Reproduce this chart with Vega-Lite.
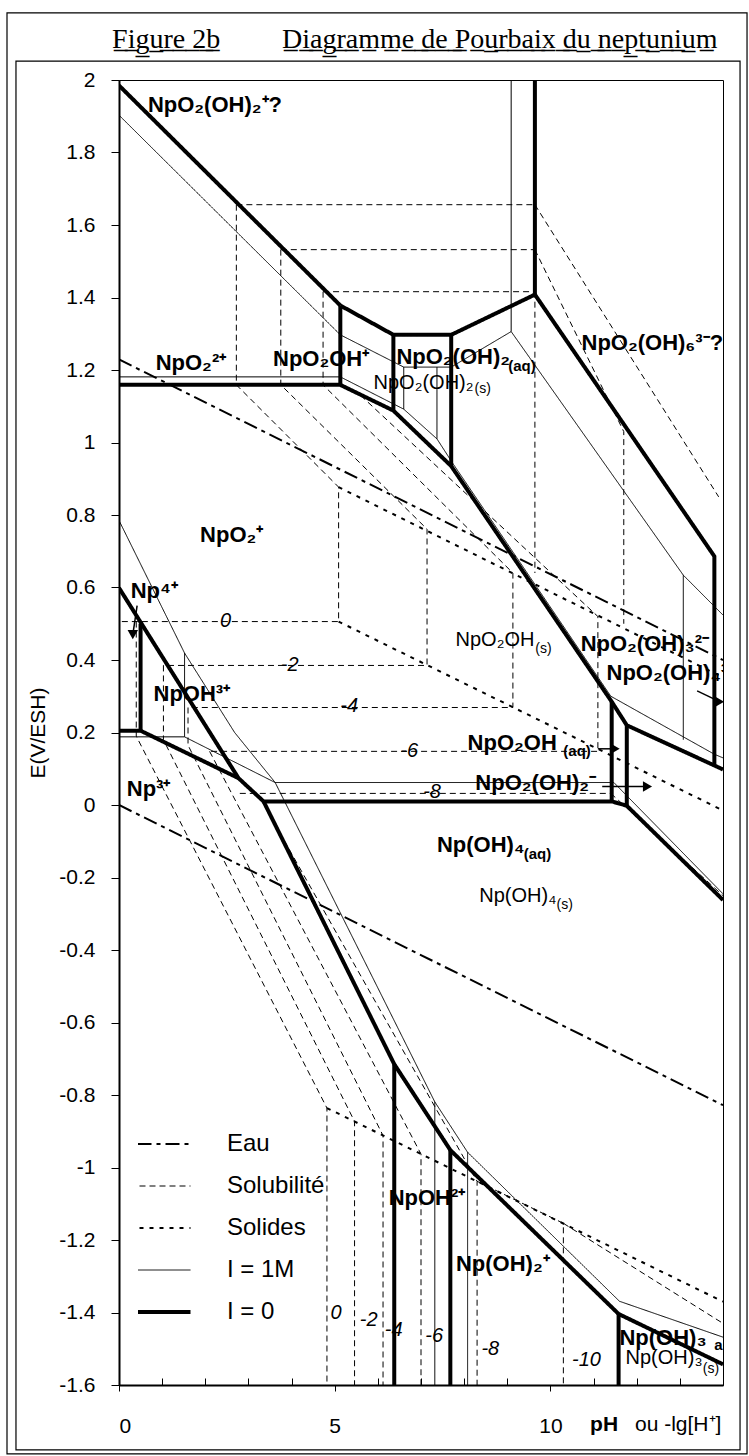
{
  "$schema": "https://vega.github.io/schema/vega-lite/v6.json",
  "width": 604,
  "height": 1305,
  "autosize": {"type": "none"},
  "padding": {"left": 119, "top": 80, "right": 26, "bottom": 71},
  "background": "white",
  "config": {
    "view": {"stroke": "black", "strokeWidth": 1},
    "font": "Liberation Sans",
    "axis": {"grid": false, "domainColor": "black", "tickColor": "black", "labelColor": "black", "titleColor": "black", "labelFont": "Liberation Sans", "titleFont": "Liberation Sans"}
  },
  "datasets": {
    "lines": [
      {"g": "a1", "s": "I = 0", "x": 0, "y": 1.985}, {"g": "a1", "s": "I = 0", "x": 5.13, "y": 1.378},
      {"g": "a2", "s": "I = 0", "x": 5.13, "y": 1.378}, {"g": "a2", "s": "I = 0", "x": 5.13, "y": 1.159},
      {"g": "a3", "s": "I = 0", "x": 0, "y": 1.159}, {"g": "a3", "s": "I = 0", "x": 5.13, "y": 1.159}, {"g": "a3", "s": "I = 0", "x": 6.36, "y": 1.088}, {"g": "a3", "s": "I = 0", "x": 7.7, "y": 0.935}, {"g": "a3", "s": "I = 0", "x": 11.42, "y": 0.285}, {"g": "a3", "s": "I = 0", "x": 11.77, "y": 0.22}, {"g": "a3", "s": "I = 0", "x": 13.8, "y": 0.109}, {"g": "a3", "s": "I = 0", "x": 14, "y": 0.098},
      {"g": "a4", "s": "I = 0", "x": 5.13, "y": 1.378}, {"g": "a4", "s": "I = 0", "x": 6.36, "y": 1.297}, {"g": "a4", "s": "I = 0", "x": 7.7, "y": 1.297}, {"g": "a4", "s": "I = 0", "x": 9.64, "y": 1.408}, {"g": "a4", "s": "I = 0", "x": 13.8, "y": 0.686}, {"g": "a4", "s": "I = 0", "x": 13.8, "y": 0.109},
      {"g": "a5", "s": "I = 0", "x": 6.36, "y": 1.297}, {"g": "a5", "s": "I = 0", "x": 6.36, "y": 1.088},
      {"g": "a6", "s": "I = 0", "x": 7.7, "y": 1.297}, {"g": "a6", "s": "I = 0", "x": 7.7, "y": 0.935},
      {"g": "a7", "s": "I = 0", "x": 9.64, "y": 2.0}, {"g": "a7", "s": "I = 0", "x": 9.64, "y": 1.408},
      {"g": "a8", "s": "I = 0", "x": 11.42, "y": 0.285}, {"g": "a8", "s": "I = 0", "x": 11.42, "y": 0.01},
      {"g": "a9", "s": "I = 0", "x": 11.77, "y": 0.22}, {"g": "a9", "s": "I = 0", "x": 11.77, "y": -0.002},
      {"g": "a10", "s": "I = 0", "x": 0, "y": 0.599}, {"g": "a10", "s": "I = 0", "x": 2.77, "y": 0.074}, {"g": "a10", "s": "I = 0", "x": 3.35, "y": 0.01}, {"g": "a10", "s": "I = 0", "x": 11.42, "y": 0.01}, {"g": "a10", "s": "I = 0", "x": 11.77, "y": -0.002}, {"g": "a10", "s": "I = 0", "x": 14, "y": -0.262},
      {"g": "a11", "s": "I = 0", "x": 0, "y": 0.205}, {"g": "a11", "s": "I = 0", "x": 0.5, "y": 0.205}, {"g": "a11", "s": "I = 0", "x": 2.77, "y": 0.074},
      {"g": "a12", "s": "I = 0", "x": 0.5, "y": 0.5}, {"g": "a12", "s": "I = 0", "x": 0.5, "y": 0.205},
      {"g": "a14", "s": "I = 0", "x": 3.35, "y": 0.01}, {"g": "a14", "s": "I = 0", "x": 6.38, "y": -0.715}, {"g": "a14", "s": "I = 0", "x": 7.68, "y": -0.952}, {"g": "a14", "s": "I = 0", "x": 11.58, "y": -1.404}, {"g": "a14", "s": "I = 0", "x": 14, "y": -1.543},
      {"g": "a15", "s": "I = 0", "x": 6.38, "y": -0.715}, {"g": "a15", "s": "I = 0", "x": 6.38, "y": -1.6},
      {"g": "a16", "s": "I = 0", "x": 7.68, "y": -0.952}, {"g": "a16", "s": "I = 0", "x": 7.68, "y": -1.6},
      {"g": "a17", "s": "I = 0", "x": 11.58, "y": -1.404}, {"g": "a17", "s": "I = 0", "x": 11.58, "y": -1.6},

      {"g": "b1", "s": "I = 1M", "x": 0, "y": 1.903}, {"g": "b1", "s": "I = 1M", "x": 5.13, "y": 1.297}, {"g": "b1", "s": "I = 1M", "x": 6.6, "y": 1.208}, {"g": "b1", "s": "I = 1M", "x": 7.7, "y": 1.208}, {"g": "b1", "s": "I = 1M", "x": 9.09, "y": 1.306}, {"g": "b1", "s": "I = 1M", "x": 13.08, "y": 0.634}, {"g": "b1", "s": "I = 1M", "x": 14, "y": 0.524},
      {"g": "b2", "s": "I = 1M", "x": 9.09, "y": 2.0}, {"g": "b2", "s": "I = 1M", "x": 9.09, "y": 1.306},
      {"g": "b3", "s": "I = 1M", "x": 0, "y": 1.181}, {"g": "b3", "s": "I = 1M", "x": 5.13, "y": 1.181}, {"g": "b3", "s": "I = 1M", "x": 6.6, "y": 1.092}, {"g": "b3", "s": "I = 1M", "x": 7.37, "y": 1.01}, {"g": "b3", "s": "I = 1M", "x": 7.75, "y": 0.94}, {"g": "b3", "s": "I = 1M", "x": 11.4, "y": 0.3}, {"g": "b3", "s": "I = 1M", "x": 13.8, "y": 0.14}, {"g": "b3", "s": "I = 1M", "x": 14, "y": 0.13},
      {"g": "b4", "s": "I = 1M", "x": 6.6, "y": 1.208}, {"g": "b4", "s": "I = 1M", "x": 6.6, "y": 1.092},
      {"g": "b5", "s": "I = 1M", "x": 7.37, "y": 1.208}, {"g": "b5", "s": "I = 1M", "x": 7.37, "y": 1.01},
      {"g": "b6", "s": "I = 1M", "x": 13.08, "y": 0.634}, {"g": "b6", "s": "I = 1M", "x": 13.08, "y": 0.18},
      {"g": "b7", "s": "I = 1M", "x": 0, "y": 0.785}, {"g": "b7", "s": "I = 1M", "x": 1.52, "y": 0.419}, {"g": "b7", "s": "I = 1M", "x": 2.68, "y": 0.2}, {"g": "b7", "s": "I = 1M", "x": 3.62, "y": 0.062},
      {"g": "b8", "s": "I = 1M", "x": 0, "y": 0.188}, {"g": "b8", "s": "I = 1M", "x": 1.52, "y": 0.188}, {"g": "b8", "s": "I = 1M", "x": 3.62, "y": 0.062},
      {"g": "b9", "s": "I = 1M", "x": 1.52, "y": 0.419}, {"g": "b9", "s": "I = 1M", "x": 1.52, "y": 0.188},
      {"g": "b10", "s": "I = 1M", "x": 3.62, "y": 0.062}, {"g": "b10", "s": "I = 1M", "x": 11.47, "y": 0.062}, {"g": "b10", "s": "I = 1M", "x": 14, "y": -0.245},
      {"g": "b11", "s": "I = 1M", "x": 3.62, "y": 0.062}, {"g": "b11", "s": "I = 1M", "x": 7.32, "y": -0.819}, {"g": "b11", "s": "I = 1M", "x": 8.08, "y": -0.958}, {"g": "b11", "s": "I = 1M", "x": 11.6, "y": -1.369}, {"g": "b11", "s": "I = 1M", "x": 14, "y": -1.468},
      {"g": "b12", "s": "I = 1M", "x": 7.32, "y": -0.819}, {"g": "b12", "s": "I = 1M", "x": 7.32, "y": -1.6},
      {"g": "b13", "s": "I = 1M", "x": 8.08, "y": -0.958}, {"g": "b13", "s": "I = 1M", "x": 8.08, "y": -1.6},

      {"g": "d1", "s": "Solubilité", "x": 2.72, "y": 1.656}, {"g": "d1", "s": "Solubilité", "x": 9.64, "y": 1.656},
      {"g": "d2", "s": "Solubilité", "x": 3.75, "y": 1.532}, {"g": "d2", "s": "Solubilité", "x": 9.64, "y": 1.532},
      {"g": "d3", "s": "Solubilité", "x": 4.73, "y": 1.416}, {"g": "d3", "s": "Solubilité", "x": 9.64, "y": 1.416},
      {"g": "d4", "s": "Solubilité", "x": 2.72, "y": 1.656}, {"g": "d4", "s": "Solubilité", "x": 2.72, "y": 1.159}, {"g": "d4", "s": "Solubilité", "x": 5.09, "y": 0.877}, {"g": "d4", "s": "Solubilité", "x": 5.09, "y": 0.506}, {"g": "d4", "s": "Solubilité", "x": 0, "y": 0.506},
      {"g": "d5", "s": "Solubilité", "x": 3.75, "y": 1.532}, {"g": "d5", "s": "Solubilité", "x": 3.75, "y": 1.159}, {"g": "d5", "s": "Solubilité", "x": 7.14, "y": 0.761}, {"g": "d5", "s": "Solubilité", "x": 7.14, "y": 0.385}, {"g": "d5", "s": "Solubilité", "x": 1.03, "y": 0.385},
      {"g": "d6", "s": "Solubilité", "x": 4.73, "y": 1.416}, {"g": "d6", "s": "Solubilité", "x": 4.73, "y": 1.159}, {"g": "d6", "s": "Solubilité", "x": 9.13, "y": 0.64}, {"g": "d6", "s": "Solubilité", "x": 9.13, "y": 0.269}, {"g": "d6", "s": "Solubilité", "x": 1.6, "y": 0.269},
      {"g": "d7", "s": "Solubilité", "x": 5.6, "y": 1.13}, {"g": "d7", "s": "Solubilité", "x": 11.1, "y": 0.52}, {"g": "d7", "s": "Solubilité", "x": 11.1, "y": 0.148}, {"g": "d7", "s": "Solubilité", "x": 2.1, "y": 0.148},
      {"g": "d8", "s": "Solubilité", "x": 2.8, "y": 0.032}, {"g": "d8", "s": "Solubilité", "x": 11.4, "y": 0.032},
      {"g": "d9", "s": "Solubilité", "x": 9.64, "y": 1.656}, {"g": "d9", "s": "Solubilité", "x": 13.9, "y": 0.85},
      {"g": "d10", "s": "Solubilité", "x": 9.64, "y": 1.532}, {"g": "d10", "s": "Solubilité", "x": 11.7, "y": 1.03}, {"g": "d10", "s": "Solubilité", "x": 11.7, "y": 0.5},
      {"g": "d11", "s": "Solubilité", "x": 9.64, "y": 1.416}, {"g": "d11", "s": "Solubilité", "x": 9.64, "y": 0.64},
      {"g": "d12", "s": "Solubilité", "x": 0.4, "y": 0.506}, {"g": "d12", "s": "Solubilité", "x": 0.4, "y": 0.19}, {"g": "d12", "s": "Solubilité", "x": 4.82, "y": -0.836}, {"g": "d12", "s": "Solubilité", "x": 4.82, "y": -1.6},
      {"g": "d13", "s": "Solubilité", "x": 1.03, "y": 0.385}, {"g": "d13", "s": "Solubilité", "x": 1.03, "y": 0.18}, {"g": "d13", "s": "Solubilité", "x": 5.46, "y": -0.873}, {"g": "d13", "s": "Solubilité", "x": 5.46, "y": -1.6},
      {"g": "d14", "s": "Solubilité", "x": 1.6, "y": 0.269}, {"g": "d14", "s": "Solubilité", "x": 1.6, "y": 0.165}, {"g": "d14", "s": "Solubilité", "x": 6.12, "y": -0.912}, {"g": "d14", "s": "Solubilité", "x": 6.12, "y": -1.6},
      {"g": "d15", "s": "Solubilité", "x": 2.1, "y": 0.148}, {"g": "d15", "s": "Solubilité", "x": 7.0, "y": -0.963}, {"g": "d15", "s": "Solubilité", "x": 7.0, "y": -1.6},
      {"g": "d16", "s": "Solubilité", "x": 3.6, "y": -0.05}, {"g": "d16", "s": "Solubilité", "x": 8.3, "y": -1.038}, {"g": "d16", "s": "Solubilité", "x": 8.3, "y": -1.6},
      {"g": "d17", "s": "Solubilité", "x": 8.3, "y": -1.038}, {"g": "d17", "s": "Solubilité", "x": 10.3, "y": -1.154}, {"g": "d17", "s": "Solubilité", "x": 10.3, "y": -1.6},
      {"g": "d18", "s": "Solubilité", "x": 11.4, "y": 0.032}, {"g": "d18", "s": "Solubilité", "x": 14, "y": -0.25},
      {"g": "d19", "s": "Solubilité", "x": 10.3, "y": -1.154}, {"g": "d19", "s": "Solubilité", "x": 14, "y": -1.43},

      {"g": "e1", "s": "Solides", "x": 5.09, "y": 0.877}, {"g": "e1", "s": "Solides", "x": 14, "y": 0.352},
      {"g": "e2", "s": "Solides", "x": 5.09, "y": 0.506}, {"g": "e2", "s": "Solides", "x": 14, "y": -0.015},
      {"g": "e3", "s": "Solides", "x": 4.82, "y": -0.836}, {"g": "e3", "s": "Solides", "x": 14, "y": -1.37},

      {"g": "w1", "s": "Eau", "x": 0, "y": 1.229}, {"g": "w1", "s": "Eau", "x": 14, "y": 0.4},
      {"g": "w2", "s": "Eau", "x": 0, "y": 0}, {"g": "w2", "s": "Eau", "x": 14, "y": -0.828}
    ],
    "labels": [
      {"k": "b", "t": "NpO₂(OH)₂⁺?", "x": 0.67, "y": 1.93},
      {"k": "b", "t": "NpO₂²⁺", "x": 0.85, "y": 1.22},
      {"k": "b", "t": "NpO₂OH⁺", "x": 3.57, "y": 1.23},
      {"k": "b", "t": "NpO₂(OH)₂", "x": 6.43, "y": 1.235},
      {"k": "b", "t": "NpO₂(OH)₆³⁻?", "x": 10.72, "y": 1.275},
      {"k": "b", "t": "NpO₂⁺", "x": 1.88, "y": 0.745},
      {"k": "b", "t": "Np⁴⁺", "x": 0.27, "y": 0.59},
      {"k": "b", "t": "NpOH³⁺", "x": 0.8, "y": 0.305},
      {"k": "b", "t": "NpO₂(OH)₃²⁻", "x": 10.7, "y": 0.445},
      {"k": "b", "t": "NpO₂(OH)₄³⁻", "x": 11.3, "y": 0.365},
      {"k": "b", "t": "NpO₂OH", "x": 8.08, "y": 0.172},
      {"k": "b", "t": "NpO₂(OH)₂⁻", "x": 8.26, "y": 0.06},
      {"k": "b", "t": "Np³⁺", "x": 0.18, "y": 0.045},
      {"k": "b", "t": "Np(OH)₄", "x": 7.37, "y": -0.11},
      {"k": "b", "t": "NpOH²⁺", "x": 6.25, "y": -1.085},
      {"k": "b", "t": "Np(OH)₂⁺", "x": 7.81, "y": -1.265},
      {"k": "b", "t": "Np(OH)₃", "x": 11.6, "y": -1.47},
      {"k": "bs", "t": "(aq)", "x": 9.02, "y": 1.21},
      {"k": "bs", "t": "(aq)", "x": 10.3, "y": 0.15},
      {"k": "bs", "t": "(aq)", "x": 9.38, "y": -0.135},
      {"k": "bs", "t": "aq", "x": 13.8, "y": -1.49},
      {"k": "n", "t": "NpO₂(OH)₂", "x": 5.9, "y": 1.165},
      {"k": "n", "t": "NpO₂OH", "x": 7.8, "y": 0.455},
      {"k": "n", "t": "Np(OH)₄", "x": 8.35, "y": -0.25},
      {"k": "n", "t": "Np(OH)₃", "x": 11.74, "y": -1.525},
      {"k": "ns", "t": "(s)", "x": 8.24, "y": 1.147},
      {"k": "ns", "t": "(s)", "x": 9.65, "y": 0.43},
      {"k": "ns", "t": "(s)", "x": 10.14, "y": -0.277},
      {"k": "ns", "t": "(s)", "x": 13.53, "y": -1.555},
      {"k": "i", "t": "0", "x": 2.34, "y": 0.508},
      {"k": "i", "t": "-2", "x": 3.75, "y": 0.387},
      {"k": "i", "t": "-4", "x": 5.13, "y": 0.272},
      {"k": "i", "t": "-6", "x": 6.52, "y": 0.15},
      {"k": "i", "t": "-8", "x": 7.05, "y": 0.035},
      {"k": "i", "t": "0", "x": 4.9, "y": -1.40},
      {"k": "i", "t": "-2", "x": 5.58, "y": -1.42},
      {"k": "i", "t": "-4", "x": 6.16, "y": -1.447},
      {"k": "i", "t": "-6", "x": 7.1, "y": -1.465},
      {"k": "i", "t": "-8", "x": 8.4, "y": -1.5},
      {"k": "i", "t": "-10", "x": 10.5, "y": -1.53},
      {"k": "xb", "t": "pH", "x": 10.92, "y": -1.71},
      {"k": "xn", "t": "ou -lg[H⁺]", "x": 11.96, "y": -1.71},
      {"k": "tt", "t": "F̲i̲g̲u̲r̲e̲ ̲2̲b̲", "x": -0.16, "y": 2.088},
      {"k": "tt", "t": "D̲i̲a̲g̲r̲a̲m̲m̲e̲ ̲d̲e̲ ̲P̲o̲u̲r̲b̲a̲i̲x̲ ̲d̲u̲ ̲n̲e̲p̲t̲u̲n̲i̲u̲m̲", "x": 3.78, "y": 2.088}
    ],
    "frames": [
      {"x": -2.596, "x2": 14.557, "y": 2.185, "y2": -1.79},
      {"x": -2.388, "x2": 14.395, "y": 2.052, "y2": -1.779}
    ],
    "arrows": [
      {"a": "r1", "x": 0.42, "y": 0.55, "h": 0}, {"a": "r1", "x": 0.32, "y": 0.47, "h": 1},
      {"a": "r2", "x": 11.1, "y": 0.155, "h": 0}, {"a": "r2", "x": 11.5, "y": 0.155, "h": 2},
      {"a": "r3", "x": 11.2, "y": 0.051, "h": 0}, {"a": "r3", "x": 12.25, "y": 0.051, "h": 2},
      {"a": "r4", "x": 13.4, "y": 0.315, "h": 0}, {"a": "r4", "x": 13.92, "y": 0.285, "h": 2}
    ]
  },
  "encoding": {
    "x": {"field": "x", "type": "quantitative", "scale": {"domain": [0, 14], "nice": false, "zero": false}},
    "y": {"field": "y", "type": "quantitative", "scale": {"domain": [-1.6, 2], "nice": false, "zero": false}}
  },
  "layer": [
    {
      "data": {"name": "frames"},
      "mark": {"type": "rect", "filled": false, "stroke": "black", "strokeWidth": 1.2},
      "encoding": {"x2": {"field": "x2"}, "y2": {"field": "y2"}}
    },
    {
      "data": {"name": "lines"},
      "transform": [{"window": [{"op": "row_number", "as": "o"}]}],
      "mark": {"type": "line", "color": "black", "clip": true, "strokeCap": "butt", "strokeJoin": "miter"},
      "encoding": {
        "x": {"field": "x", "type": "quantitative", "axis": {
          "values": [0,1,2,3,4,5,6,7,8,9,10,11,12,13,14],
          "labelExpr": "datum.value % 5 === 0 ? datum.label : ''",
          "title": null, "labelFontSize": 21, "labelPadding": 24, "domainWidth": 2,
          "tickSize": {"condition": {"test": "datum.value % 5 === 0", "value": 6}, "value": -7}
        }},
        "y": {"field": "y", "type": "quantitative", "axis": {
          "values": [-1.6,-1.55,-1.5,-1.45,-1.4,-1.35,-1.3,-1.25,-1.2,-1.15,-1.1,-1.05,-1,-0.95,-0.9,-0.85,-0.8,-0.75,-0.7,-0.65,-0.6,-0.55,-0.5,-0.45,-0.4,-0.35,-0.3,-0.25,-0.2,-0.15,-0.1,-0.05,0,0.05,0.1,0.15,0.2,0.25,0.3,0.35,0.4,0.45,0.5,0.55,0.6,0.65,0.7,0.75,0.8,0.85,0.9,0.95,1,1.05,1.1,1.15,1.2,1.25,1.3,1.35,1.4,1.45,1.5,1.55,1.6,1.65,1.7,1.75,1.8,1.85,1.9,1.95,2],
          "labelExpr": "abs(datum.value*5 - round(datum.value*5)) < 0.000001 ? toString(round(datum.value*5)/5) : ''",
          "title": "E(V/ESH)", "titleFontSize": 21, "titleFontWeight": "normal", "titlePadding": 10,
          "labelFontSize": 21, "labelPadding": 16, "domainWidth": 2,
          "tickSize": {"condition": {"test": "abs(datum.value*5 - round(datum.value*5)) < 0.000001", "value": 8}, "value": -6}
        }},
        "detail": {"field": "g"},
        "order": {"field": "o", "type": "quantitative"},
        "strokeDash": {"field": "s", "type": "nominal",
          "scale": {"domain": ["Eau", "Solubilité", "Solides", "I = 1M", "I = 0"], "range": [[14, 5, 4, 5], [6, 4], [4, 6], [1, 0], [1, 0]]},
          "legend": {"orient": "none", "legendX": 19, "legendY": 1044, "title": null, "symbolType": "stroke", "symbolSize": 6561, "labelFontSize": 24, "labelFont": "Liberation Sans", "labelColor": "black", "clipHeight": 40, "rowPadding": 2, "labelOffset": 65, "symbolStrokeColor": "black",
            "encode": {"symbols": {"update": {"strokeWidth": {"signal": "datum.value === 'I = 0' ? 4 : (datum.value === 'Eau' || datum.value === 'Solides') ? 2 : 1"}, "stroke": {"value": "black"}}}}}},
        "strokeWidth": {"condition": [{"test": "datum.s === 'I = 0'", "value": 4}, {"test": "datum.s === 'Eau' || datum.s === 'Solides'", "value": 2}], "value": 1}
      }
    },
    {
      "data": {"name": "arrows"},
      "mark": {"type": "line", "color": "black", "strokeWidth": 1.5, "clip": true},
      "encoding": {"detail": {"field": "a"}}
    },
    {
      "data": {"name": "arrows"},
      "transform": [{"filter": "datum.h == 1"}],
      "mark": {"type": "point", "shape": "triangle-down", "filled": true, "color": "black", "size": 110, "opacity": 1},
      "encoding": {}
    },
    {
      "data": {"name": "arrows"},
      "transform": [{"filter": "datum.h == 2"}],
      "mark": {"type": "point", "shape": "triangle-right", "filled": true, "color": "black", "size": 110, "opacity": 1},
      "encoding": {}
    },
    {
      "data": {"name": "labels"},
      "transform": [{"filter": "datum.k == 'b'"}],
      "mark": {"type": "text", "align": "left", "baseline": "middle", "fontSize": 22, "fontWeight": "bold", "font": "Liberation Sans", "color": "black", "clip": true},
      "encoding": {"text": {"field": "t"}}
    },
    {
      "data": {"name": "labels"},
      "transform": [{"filter": "datum.k == 'bs'"}],
      "mark": {"type": "text", "align": "left", "baseline": "middle", "fontSize": 15, "fontWeight": "bold", "font": "Liberation Sans", "color": "black", "clip": true},
      "encoding": {"text": {"field": "t"}}
    },
    {
      "data": {"name": "labels"},
      "transform": [{"filter": "datum.k == 'n'"}],
      "mark": {"type": "text", "align": "left", "baseline": "middle", "fontSize": 20, "font": "Liberation Sans", "color": "black", "clip": true},
      "encoding": {"text": {"field": "t"}}
    },
    {
      "data": {"name": "labels"},
      "transform": [{"filter": "datum.k == 'ns'"}],
      "mark": {"type": "text", "align": "left", "baseline": "middle", "fontSize": 14, "font": "Liberation Sans", "color": "black", "clip": true},
      "encoding": {"text": {"field": "t"}}
    },
    {
      "data": {"name": "labels"},
      "transform": [{"filter": "datum.k == 'i'"}],
      "mark": {"type": "text", "align": "left", "baseline": "middle", "fontSize": 20, "fontStyle": "italic", "font": "Liberation Sans", "color": "black"},
      "encoding": {"text": {"field": "t"}}
    },
    {
      "data": {"name": "labels"},
      "transform": [{"filter": "datum.k == 'xb'"}],
      "mark": {"type": "text", "align": "left", "baseline": "middle", "fontSize": 21, "fontWeight": "bold", "font": "Liberation Sans", "color": "black"},
      "encoding": {"text": {"field": "t"}}
    },
    {
      "data": {"name": "labels"},
      "transform": [{"filter": "datum.k == 'xn'"}],
      "mark": {"type": "text", "align": "left", "baseline": "middle", "fontSize": 21, "font": "Liberation Sans", "color": "black"},
      "encoding": {"text": {"field": "t"}}
    },
    {
      "data": {"name": "labels"},
      "transform": [{"filter": "datum.k == 'tt'"}],
      "mark": {"type": "text", "align": "left", "baseline": "alphabetic", "fontSize": 28, "font": "Liberation Serif", "color": "black"},
      "encoding": {"text": {"field": "t"}}
    }
  ]
}
